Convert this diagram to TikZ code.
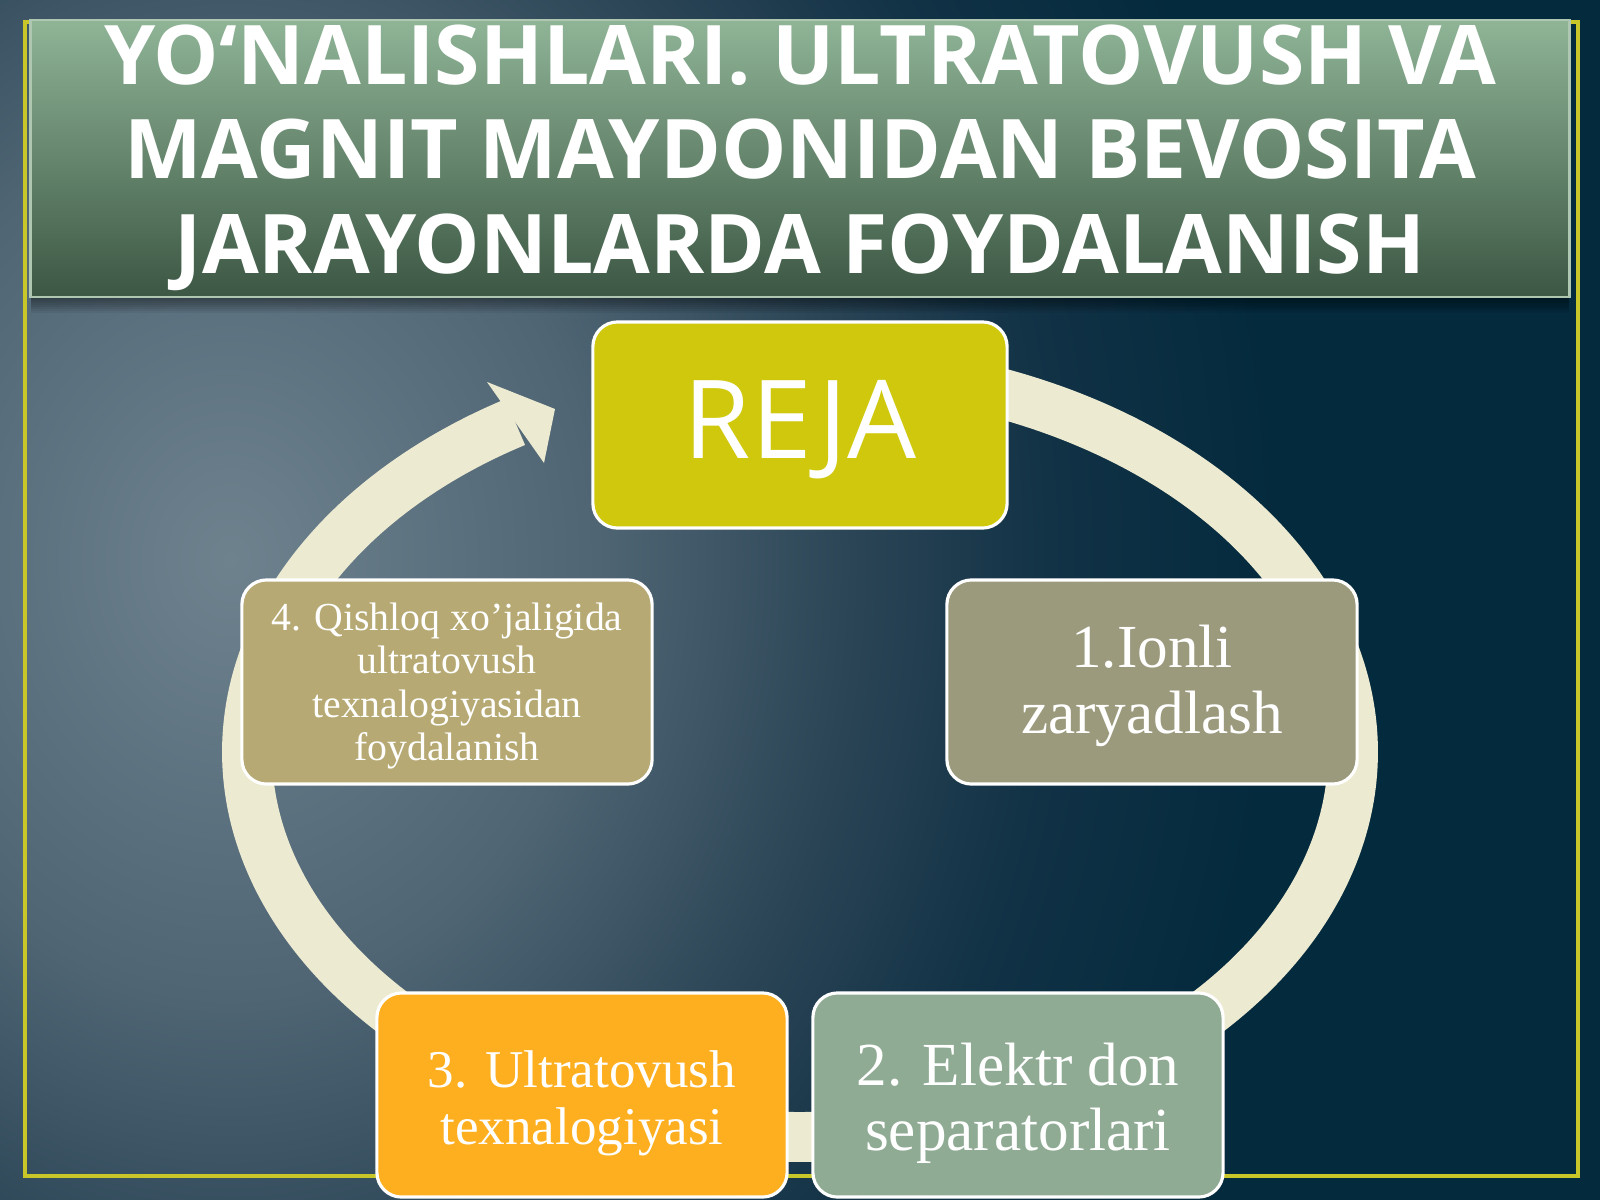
\documentclass[tikz,border=0pt]{standalone}
\usepackage{fontspec}
\setmainfont{Liberation Serif}
\newfontfamily\osans{Open Sans}
\definecolor{bg0}{HTML}{6E828E}
\definecolor{bg1}{HTML}{4F6574}
\definecolor{bg2}{HTML}{2A4455}
\definecolor{bg3}{HTML}{123246}
\definecolor{bg4}{HTML}{042A3D}
\definecolor{ttop}{HTML}{8FB496}
\definecolor{tbot}{HTML}{3C5744}
\definecolor{tline}{HTML}{AFC6B0}
\definecolor{framec}{HTML}{C9C62A}
\definecolor{ringc}{HTML}{ECEAD0}
\definecolor{rejac}{HTML}{CFC80C}
\definecolor{cone}{HTML}{9B9A7D}
\definecolor{ctwo}{HTML}{8FAB94}
\definecolor{cthree}{HTML}{FDAF1F}
\definecolor{cfour}{HTML}{B6A973}
\pgfdeclareradialshading{bgrad}{\pgfpoint{0bp}{0bp}}{color(0bp)=(bg0); color(8.75bp)=(bg1); color(15bp)=(bg2); color(19.5bp)=(bg3); color(25bp)=(bg4); color(50bp)=(bg4)}
\tikzset{
  blk/.style={draw=white, line width=0.9pt, rounded corners=7pt, minimum width=4.1cm, minimum height=2.04cm, inner sep=0pt},
  blktext/.style={inner sep=0pt, align=center, text=white},
  ttl/.style={font=\osans\bfseries\fontsize{23.4}{27}\selectfont, text=white, inner sep=0pt, anchor=base},
  ringline/.style={draw=ringc, line width=14.2pt},
  framebox/.style={draw=framec, line width=1.1pt}
}
\begin{document}
\begin{tikzpicture}[x=0.01cm,y=-0.01cm]
\useasboundingbox (0,0) rectangle (1600,1200);
% background
\fill[bg4] (0,0) rectangle (1600,1200);
\begin{scope}
\clip (0,0) rectangle (1600,1200);
\shade[shading=bgrad] (230,560) ellipse [x radius=1050, y radius=1250];
\end{scope}
% yellow frame
\draw[framebox] (25,22) rectangle (1578,1176);
% title shadow
\foreach \i in {2,4,...,16}{
  \fill[black, opacity=0.06] (31,20) rectangle (1569,297+\i);
}
% title box
\node (titlebox) [minimum width=15.38cm, minimum height=2.77cm, inner sep=0pt, top color=ttop, bottom color=tbot, draw=tline, line width=0.6pt] at (800,158.5) {};
\node (tone) [ttl] at (800,84) {YO‘NALISHLARI. ULTRATOVUSH VA};
\node (ttwo) [ttl] at (800,178.5) {MAGNIT MAYDONIDAN BEVOSITA};
\node (tthree) [ttl] at (800,273) {JARAYONLARDA FOYDALANISH};
% ring arrow
\draw[ringline] plot[domain=280:599, samples=160, smooth] ({800+553*cos(\x)},{752+385*sin(\x)});
\coordinate (tip) at (555,409);
\coordinate (barbA) at (487,382);
\coordinate (barbB) at (544,463);
\fill[ringc] (barbA) -- (tip) -- (barbB) -- cycle;
% boxes
\node (reja) [blk, fill=rejac, minimum width=4.14cm, minimum height=2.06cm] at (800,425) {};
\node (rejat) [blktext, font=\osans\fontsize{31}{31}\selectfont] at (800,430) {REJA};
\node (bone) [blk, fill=cone] at (1152,682) {};
\node (bonet) [blktext, font=\fontsize{17.4}{18.8}\selectfont] at (1152,686) {1.Ionli\\zaryadlash};
\node (btwo) [blk, fill=ctwo] at (1018,1095) {};
\node (btwot) [blktext, font=\fontsize{17.4}{18.6}\selectfont] at (1018,1103) {2. Elektr don\\separatorlari};
\node (bthree) [blk, fill=cthree] at (582,1095) {};
\node (bthreet) [blktext, font=\fontsize{15.1}{16.2}\selectfont] at (582,1103) {3. Ultratovush\\texnalogiyasi};
\node (bfour) [blk, fill=cfour] at (447,682) {};
\node (bfourt) [blktext, font=\fontsize{11.3}{12.3}\selectfont] at (447,686) {4. Qishloq xo’jaligida\\ultratovush\\texnalogiyasidan\\foydalanish};
\end{tikzpicture}
\end{document}
